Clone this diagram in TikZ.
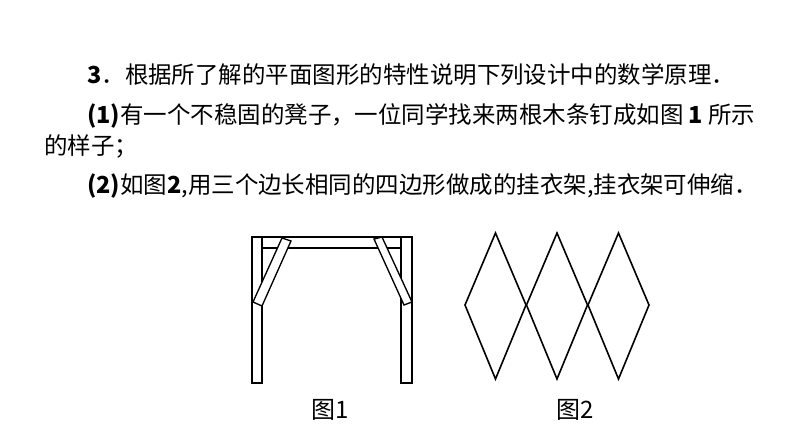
\documentclass[tikz,border=0pt]{standalone}
\usepackage{fontspec}
\setmainfont{Liberation Serif}
\newfontfamily\cjk{Noto Sans CJK SC}
\begin{document}
\begin{tikzpicture}[x=0.75pt,y=0.75pt,yscale=-1,xscale=1]
\tikzset{txt/.style={anchor=west,inner sep=0pt,font=\cjk\fontsize{17.6}{20}\selectfont},
  board/.style={draw,line width=1pt,fill=white}}
\useasboundingbox (0,0) rectangle (794,447);

% Text Node
\node[txt] (l1) at (87,75) {\textbf{3}．根据所了解的平面图形的特性说明下列设计中的数学原理．};
% Text Node
\node[txt] (l2) at (87,116) {\textbf{(1)}有一个不稳固的凳子，一位同学找来两根木条钉成如图 \textbf{1} 所示};
% Text Node
\node[txt] (l3) at (44,146) {的样子；};
% Text Node
\node[txt] (l4) at (87,186) {\textbf{(2)}如图\textbf{2},用三个边长相同的四边形做成的挂衣架,挂衣架可伸缩．};

%Shape: stool top
\draw[board] (252,237) rectangle (412,248);
%Shape: legs
\draw[board] (252,237) rectangle (262,383);
\draw[board] (401,237) rectangle (412,383);
%Shape: braces
\draw[board] (282,238) -- (291,241) -- (262,306) -- (253,302) -- cycle;
\draw[board] (374,239) -- (382,237) -- (412,302) -- (404,305) -- cycle;

%Shape: rhombi
\foreach \i in {0,1,2}
  \draw[line width=1.2pt,line join=miter] ({465+61.5*\i},305) -- ({495.5+61.5*\i},233) -- ({526+61.5*\i},305) -- ({495.5+61.5*\i},379) -- cycle;

% Text Node
\node[font=\cjk\fontsize{18}{20}\selectfont] (f1) at (330,410) {图1};
% Text Node
\node[font=\cjk\fontsize{18}{20}\selectfont] (f2) at (575,410) {图2};
\end{tikzpicture}
\end{document}
